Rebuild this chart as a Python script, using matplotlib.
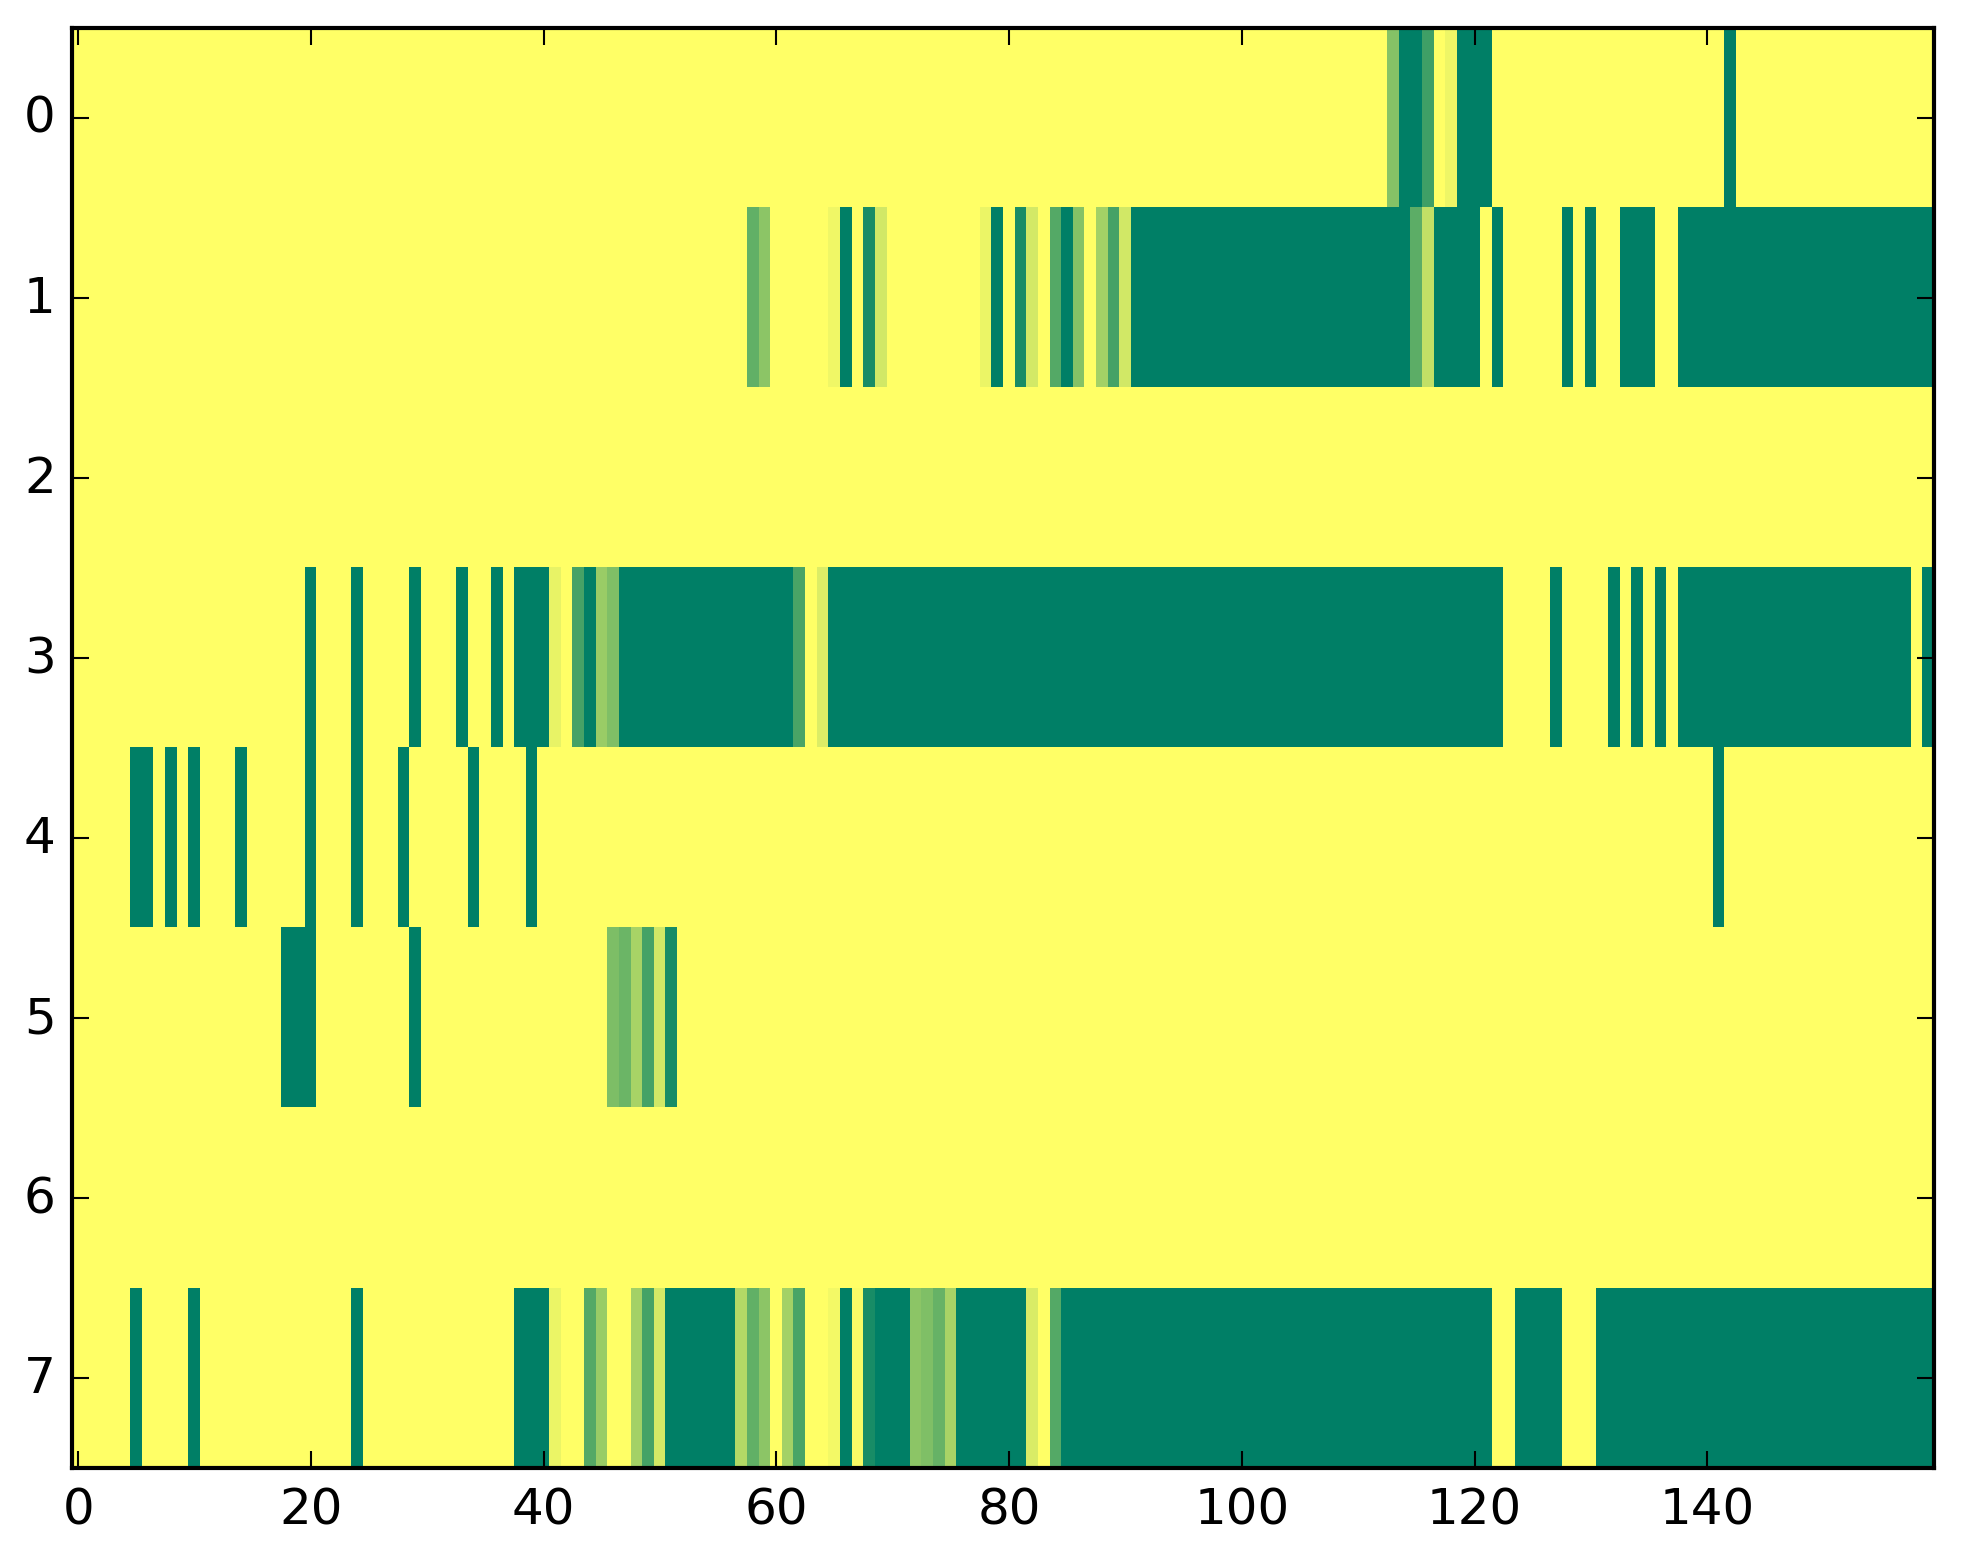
import matplotlib
matplotlib.use('Agg')
import matplotlib.pyplot as plt
import numpy as np

plt.style.use('classic')

N_ROWS = 8
N_COLS = 160

# fully "on" cells, as inclusive column ranges, per row
full_0 = [(114, 115), (119, 121), (142, 142)]
full_1 = [(66, 66), (79, 79), (85, 85), (91, 114), (117, 120), (122, 122),
          (128, 128), (130, 130), (133, 135), (138, 159)]
full_2 = []
full_3 = [(20, 20), (24, 24), (29, 29), (33, 33), (36, 36), (38, 40),
          (44, 44), (47, 61), (65, 122), (127, 127), (132, 132), (134, 134),
          (136, 136), (138, 157), (159, 159)]
full_4 = [(5, 6), (8, 8), (10, 10), (14, 14), (20, 20), (24, 24), (28, 28),
          (34, 34), (39, 39), (141, 141)]
full_5 = [(18, 20), (29, 29)]
full_6 = []
full_7 = [(5, 5), (10, 10), (24, 24), (38, 40), (51, 56), (66, 66),
          (69, 71), (76, 81), (85, 121), (124, 127), (131, 159)]

# partial cells {column: value}
part_0 = {113: 0.48, 116: 0.75, 118: 0.07}
part_1 = {58: 0.62, 59: 0.45, 65: 0.06, 68: 0.9, 69: 0.18, 78: 0.08,
          81: 0.9, 82: 0.17, 84: 0.67, 86: 0.48, 88: 0.36, 89: 0.73,
          90: 0.18, 115: 0.64, 116: 0.24}
part_2 = {}
part_3 = {41: 0.09, 43: 0.73, 45: 0.4, 46: 0.5, 62: 0.71, 64: 0.14}
part_4 = {}
part_5 = {46: 0.51, 47: 0.58, 48: 0.34, 49: 0.73, 50: 0.18, 51: 0.9}
part_6 = {}
part_7 = {41: 0.08, 44: 0.67, 45: 0.4, 48: 0.36, 49: 0.73, 50: 0.17,
          57: 0.3, 58: 0.62, 59: 0.45, 61: 0.36, 62: 0.71, 65: 0.05,
          67: 0.03, 68: 0.9, 72: 0.45, 73: 0.5, 74: 0.6, 75: 0.34,
          82: 0.15, 84: 0.67}

full_rows = [full_0, full_1, full_2, full_3, full_4, full_5, full_6, full_7]
part_rows = [part_0, part_1, part_2, part_3, part_4, part_5, part_6, part_7]

data = np.zeros((N_ROWS, N_COLS))
for r in range(N_ROWS):
    for a, b in full_rows[r]:
        data[r, a:b + 1] = 1.0
    for c, v in part_rows[r].items():
        data[r, c] = v

fig = plt.figure(figsize=(1963 / 300, 1564 / 300))
ax = fig.add_axes([0.0369, 0.0605, 0.9484, 0.9210])
ax.imshow(data, cmap='summer_r', vmin=0, vmax=1,
          interpolation='nearest', aspect='auto')
ax.set_yticks(range(N_ROWS))
ax.set_xticks(range(0, 141, 20))
ax.set_xlim(-0.5, N_COLS - 0.5)
ax.set_ylim(N_ROWS - 0.5, -0.5)

fig.savefig('out.png', dpi=300, facecolor='white')
plt.close()
